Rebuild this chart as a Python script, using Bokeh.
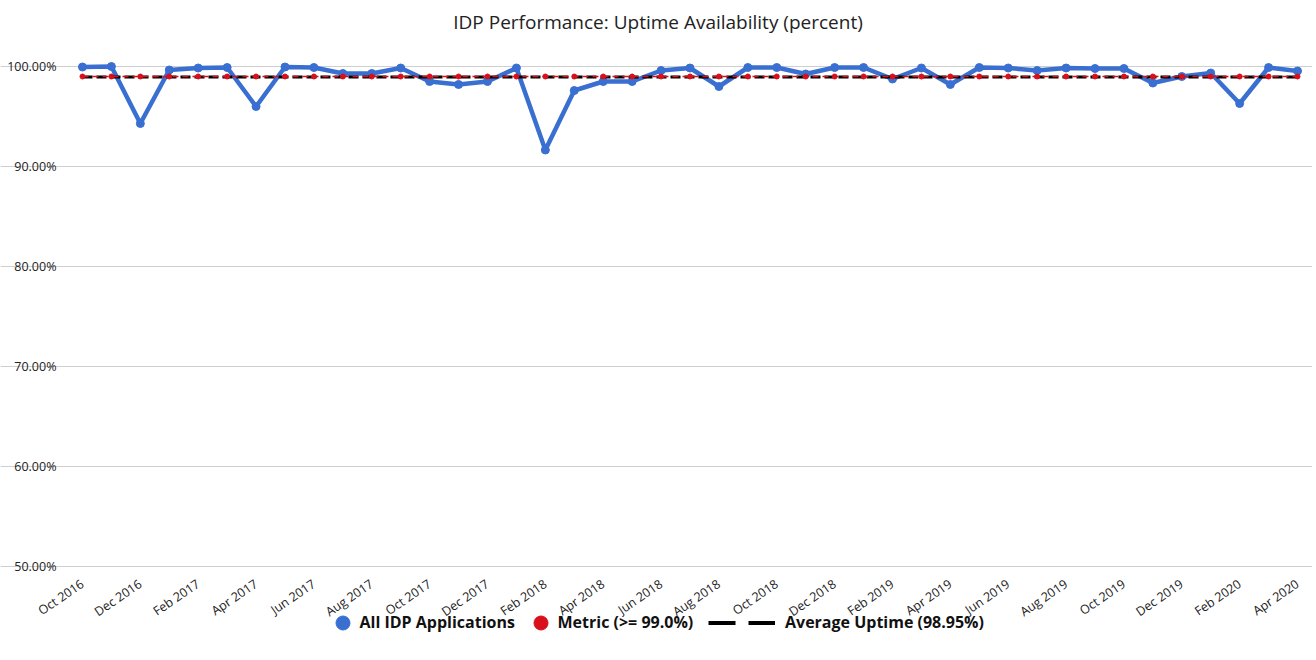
from bokeh.plotting import figure
from bokeh.models import (ColumnDataSource, FixedTicker, PrintfTickFormatter,
                          Legend, LegendItem, Label, Range1d)
from bokeh.embed import file_html
from bokeh.resources import INLINE

months = ["Oct 2016", "Nov 2016", "Dec 2016", "Jan 2017", "Feb 2017", "Mar 2017",
          "Apr 2017", "May 2017", "Jun 2017", "Jul 2017", "Aug 2017", "Sep 2017",
          "Oct 2017", "Nov 2017", "Dec 2017", "Jan 2018", "Feb 2018", "Mar 2018",
          "Apr 2018", "May 2018", "Jun 2018", "Jul 2018", "Aug 2018", "Sep 2018",
          "Oct 2018", "Nov 2018", "Dec 2018", "Jan 2019", "Feb 2019", "Mar 2019",
          "Apr 2019", "May 2019", "Jun 2019", "Jul 2019", "Aug 2019", "Sep 2019",
          "Oct 2019", "Nov 2019", "Dec 2019", "Jan 2020", "Feb 2020", "Mar 2020",
          "Apr 2020"]
uptime = [99.95, 100.0, 94.3, 99.65, 99.85, 99.9, 96.0, 99.95, 99.9, 99.3,
          99.3, 99.85, 98.5, 98.2, 98.5, 99.85, 91.65, 97.6, 98.5, 98.5,
          99.6, 99.85, 98.0, 99.9, 99.9, 99.25, 99.9, 99.9, 98.75, 99.85,
          98.2, 99.9, 99.85, 99.6, 99.85, 99.8, 99.8, 98.35, 99.0, 99.35,
          96.3, 99.9, 99.55]
metric_value = 99.0
average_value = 98.95
y_ticks = [50, 60, 70, 80, 90, 100]
tick_month_labels = months[::2]
title_text = "IDP Performance: Uptime  Availability (percent)"

FONT = "Open Sans"
BLUE = "#3a6fd2"
RED = "#d8101c"

idx = list(range(len(months)))
src = ColumnDataSource(dict(
    x=idx,
    up=uptime,
    metric=[metric_value] * len(months),
    avg=[average_value] * len(months),
))

# plot area spans the whole canvas; axes are pinned at the data edges
X0, X1 = -0.484, 42.45
p = figure(width=1312, height=656, output_backend="svg", toolbar_location=None,
           x_range=(-2.834, 42.518), y_range=(41.0, 106.6),
           min_border_left=0, min_border_right=0, min_border_top=0,
           min_border_bottom=0)
p.outline_line_color = None
p.extra_x_ranges = {"legend_only": Range1d(1000, 1100)}

# title
p.add_layout(Label(x=660, y=635, x_units="screen", y_units="screen",
                   text=title_text, text_align="center", text_baseline="middle",
                   text_font=FONT, text_font_size="19px", text_color="#222222"))

# grid
p.xgrid.grid_line_color = None
p.ygrid.grid_line_color = "#cfcfcf"
p.ygrid.grid_line_width = 1.2
p.ygrid.ticker = FixedTicker(ticks=y_ticks)
p.ygrid.bounds = (X0, X1)

# y axis
p.yaxis.fixed_location = X0
p.yaxis.ticker = FixedTicker(ticks=y_ticks)
p.yaxis.formatter = PrintfTickFormatter(format="%.2f%%")
p.yaxis.axis_line_color = None
p.yaxis.major_tick_line_color = None
p.yaxis.minor_tick_line_color = None
p.yaxis.major_label_standoff = 6
p.yaxis.major_label_text_font = FONT
p.yaxis.major_label_text_font_size = "12.5px"
p.yaxis.major_label_text_color = "#222222"

# x axis (drawn at the 50% baseline)
tick_pos = idx[::2]
p.xaxis.fixed_location = 50
p.xaxis.ticker = FixedTicker(ticks=tick_pos)
p.xaxis.major_label_overrides = {t: lab for t, lab in zip(tick_pos, tick_month_labels)}
p.xaxis.major_label_orientation = 0.6
p.xaxis.axis_line_color = None
p.xaxis.major_tick_line_color = None
p.xaxis.minor_tick_line_color = None
p.xaxis.major_label_standoff = 10
p.xaxis.major_label_text_font = FONT
p.xaxis.major_label_text_font_size = "12.5px"
p.xaxis.major_label_text_color = "#222222"

# series
p.line("x", "up", source=src, line_color=BLUE, line_width=4.5, line_join="round")
blue_pts = p.scatter("x", "up", source=src, size=8, fill_color=BLUE, line_color=BLUE)
p.line("x", "avg", source=src, line_color="black", line_width=3.2, line_dash="10 4")
p.line("x", "metric", source=src, line_color=RED, line_width=1.5, line_dash="6 4")
red_pts = p.scatter("x", "metric", source=src, size=5, fill_color=RED, line_color=RED)

# legend swatch for the average line (mapped off-screen, used only by the legend)
black_leg = p.line("x", "avg", source=src, x_range_name="legend_only",
                   line_color="black", line_width=4, line_dash="27 13")


def make_legend(label, renderer, xloc, gw, standoff):
    lg = Legend(items=[LegendItem(label=label, renderers=[renderer])],
                location=(xloc, 16.5), orientation="horizontal",
                glyph_width=gw, glyph_height=35, label_standoff=standoff,
                padding=0, margin=0, spacing=0,
                border_line_color=None, background_fill_alpha=0,
                label_text_font=FONT, label_text_font_size="16px",
                label_text_font_style="bold", label_text_color="#111111")
    p.add_layout(lg, "center")


make_legend("All IDP Applications", blue_pts, 324.5, 35, 0)
make_legend("Metric (>= 99.0%)", red_pts, 522.5, 35, 0)
make_legend("Average Uptime (98.95%)", black_leg, 708, 67, 10)

open("out.html", "w").write(file_html(p, INLINE))
